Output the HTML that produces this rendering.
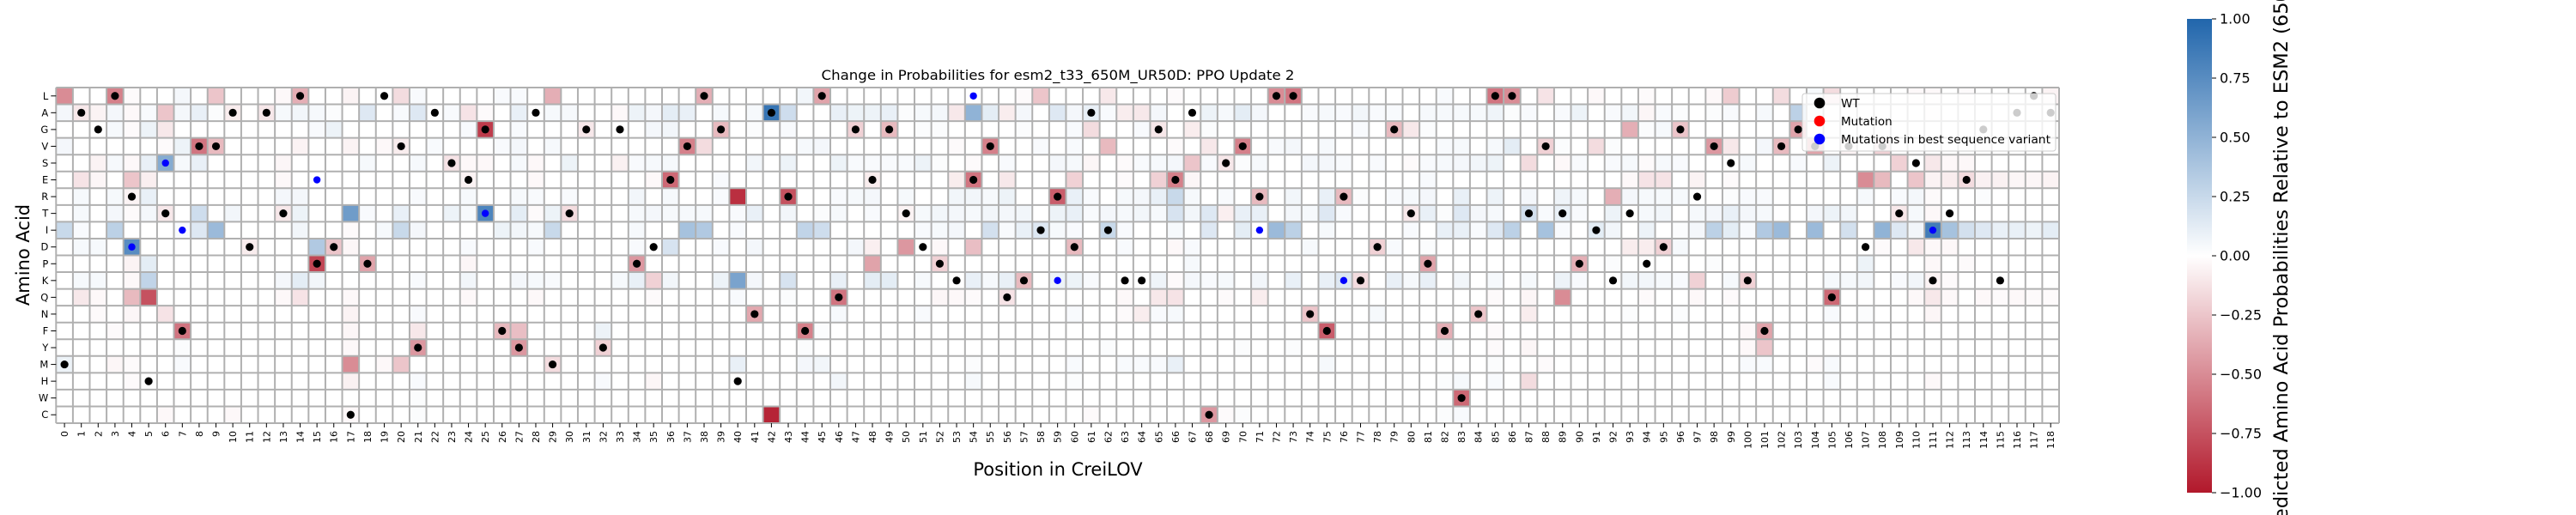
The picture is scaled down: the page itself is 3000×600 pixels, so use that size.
<!DOCTYPE html>
<html><head><meta charset="utf-8"><style>
html,body{margin:0;padding:0;background:#fff;}
svg{display:block;font-family:"DejaVu Sans","Liberation Sans",sans-serif;}
</style></head><body>
<svg id="chart" width="3000" height="600" viewBox="0 0 3000 600" xmlns="http://www.w3.org/2000/svg">
<defs>
<linearGradient id="cbgrad" x1="0" y1="1" x2="0" y2="0">
<stop offset="0" stop-color="#b2182b"/><stop offset="0.5" stop-color="#ffffff"/><stop offset="1" stop-color="#2166ac"/>
</linearGradient>
</defs>
<text x="1232" y="93" font-size="16" text-anchor="middle" textLength="551" lengthAdjust="spacingAndGlyphs">Change in Probabilities for esm2_t33_650M_UR50D: PPO Update 2</text>
<g id="cells"></g>
<g id="grid"></g>
<g id="dots"></g>
<g id="xaxis"></g>
<g id="yaxis"></g>
<text x="1232" y="554" font-size="21" text-anchor="middle">Position in CreiLOV</text>
<text transform="translate(34,297) rotate(-90)" font-size="21" text-anchor="middle">Amino Acid</text>
<g>
<rect x="2099" y="109" width="295" height="67" rx="3" fill="#fff" fill-opacity="0.8" stroke="#cccccc" stroke-width="1"/>
<circle cx="2119" cy="120" r="6.3" fill="#000"/>
<text x="2144" y="125" font-size="13.5">WT</text>
<circle cx="2119" cy="141" r="6.3" fill="#ff0000"/>
<text x="2144" y="146" font-size="13.5">Mutation</text>
<circle cx="2119" cy="162" r="6.3" fill="#0000ff"/>
<text x="2144" y="167" font-size="13.5" textLength="244" lengthAdjust="spacingAndGlyphs">Mutations in best sequence variant</text>
</g>
<g>
<rect x="2547" y="22" width="29" height="552" fill="url(#cbgrad)"/>
<g id="cbticks"></g>
<text transform="translate(2664,628) rotate(-90)" font-size="22.5" text-anchor="start">Predicted Amino Acid Probabilities Relative to ESM2 (650M)</text>
</g>
</svg>
<script>
const aminoAcids = ['L','A','G','V','S','E','R','T','I','D','P','K','Q','N','F','Y','M','H','W','C'];
const positions = 119;
const wtResidue = ['M','A','G','L','R','H','T','F','V','V','A','D','A','T','L','P','D','C','P','L','V','Y','A','S','E','G','F','Y','A','M','T','G','Y','G','P','D','E','V','L','G','H','N','A','R','F','L','Q','G','E','G','T','D','P','K','E','V','Q','K','I','R','D','A','I','K','K','G','E','A','C','S','V','R','L','L','N','F','R','K','D','G','T','P','F','W','N','L','L','T','V','T','P','I','K','T','P','D','G','R','V','S','K','F','V','G','V','Q','V','D','V','T','S','K','T','E','G','K','A','L','A'];
const bestCols = [4,6,7,15,25,54,59,71,76,111];
const bestResidue = ['D','S','I','E','T','L','K','I','K','I'];
const cbTicks = [1.0,0.75,0.5,0.25,0,-0.25,-0.5,-0.75,-1.0];
const cbTickLabels = ['1.00','0.75','0.50','0.25','0.00','\u22120.25','\u22120.50','\u22120.75','\u22121.00'];
// sparse per-row values [position, value]
const rowL=[[0,-.5],[3,-.55],[4,-.02],[7,.05],[9,-.25],[13,-.03],[14,-.35],[17,-.05],[20,-.15],[21,.03],[26,.03],[27,.03],[29,-.35],[38,-.35],[44,.06],[45,-.4],[57,-.02],[58,-.25],[62,-.1],[66,-.02],[72,-.5],[73,-.6],[82,.03],[85,-.6],[86,-.5],[88,-.12],[91,-.03],[94,-.02],[98,-.03],[99,-.22],[102,-.15],[104,.04],[105,-.15],[110,-.03],[111,-.03],[113,-.02],[118,-.05]];
const rowA=[[0,.05],[1,-.1],[2,-.05],[3,.05],[4,-.03],[5,.03],[6,-.25],[7,.05],[8,.1],[9,.02],[10,-.08],[12,-.1],[13,.04],[14,.06],[15,.04],[16,.02],[18,.15],[20,.03],[21,.15],[23,.03],[24,-.12],[25,-.02],[27,.1],[29,.04],[30,.04],[33,-.03],[34,.08],[35,.05],[36,.12],[37,.1],[39,.04],[41,.04],[42,.9],[43,.22],[46,.1],[47,.08],[48,.08],[49,.1],[50,.02],[51,.04],[52,.05],[53,-.1],[54,.5],[55,.12],[56,-.08],[57,.05],[59,.15],[60,.05],[61,.1],[62,.03],[63,-.08],[64,-.1],[65,.05],[68,.08],[69,.04],[70,.12],[71,.05],[74,.03],[75,.04],[76,.03],[77,.06],[78,.03],[79,.03],[81,.04],[82,.04],[83,.04],[84,.04],[85,.07],[86,.02],[87,.03],[89,.03],[90,.08],[92,.03],[93,.06],[94,-.04],[95,.03],[96,.02],[98,.02],[99,.03],[101,.04],[103,.3],[104,.05],[111,-.02]];
const rowG=[[3,.04],[4,-.02],[5,.08],[6,-.1],[15,.03],[16,.08],[24,.03],[25,-.85],[27,.03],[31,-.1],[35,.05],[36,.06],[39,-.3],[41,.02],[43,.03],[47,-.2],[49,-.3],[51,.02],[52,.02],[57,.02],[60,.03],[61,-.15],[64,.03],[65,-.1],[67,-.08],[68,.02],[77,.03],[79,-.3],[80,-.1],[81,.02],[93,-.35],[94,.02],[95,.04],[96,-.25],[103,-.4]];
const rowV=[[0,.05],[6,-.02],[7,.08],[8,-.6],[9,-.3],[14,-.05],[17,-.05],[19,-.03],[20,-.08],[22,.03],[26,.03],[27,.05],[29,.04],[37,-.55],[38,-.15],[44,.04],[45,.05],[53,-.02],[55,-.55],[58,.03],[60,.03],[62,-.3],[66,-.02],[68,-.1],[70,-.55],[72,.03],[73,.05],[75,.04],[82,.03],[83,.04],[85,.04],[86,.12],[88,-.2],[89,.02],[91,-.15],[92,.02],[98,-.45],[99,-.1],[101,.05],[102,-.3],[104,-.4],[106,-.05],[108,-.2]];
const rowS=[[2,-.05],[3,.04],[4,-.03],[5,.1],[6,.55],[7,.04],[8,.1],[13,-.04],[18,.04],[21,.04],[23,-.12],[24,-.03],[25,-.03],[27,.04],[28,-.03],[30,.08],[33,-.06],[34,.03],[35,.04],[36,.04],[41,.06],[43,.08],[46,.08],[47,.03],[48,.03],[49,.03],[50,.03],[51,.08],[52,.02],[54,-.02],[56,.03],[59,.05],[60,.04],[61,-.04],[63,-.02],[64,.03],[65,.04],[66,.05],[67,-.25],[68,.03],[69,-.1],[70,.02],[71,.04],[74,.05],[75,.05],[76,.03],[78,.03],[80,-.02],[81,.03],[82,.04],[83,.05],[84,.06],[85,.08],[87,-.15],[89,-.03],[90,.03],[92,.03],[93,.04],[94,-.02],[95,.04],[96,.03],[100,.04],[103,.03],[105,.08],[109,-.2],[111,-.1],[112,-.03],[113,-.03]];
const rowE=[[1,-.12],[2,-.04],[4,-.25],[5,-.07],[13,-.03],[24,-.05],[28,-.03],[35,-.03],[36,-.65],[39,.03],[48,-.08],[53,-.08],[54,-.6],[56,-.1],[60,-.2],[63,-.02],[65,-.2],[66,-.55],[67,-.04],[81,.03],[93,-.03],[94,-.12],[95,-.12],[97,-.05],[99,-.02],[107,-.5],[108,-.3],[110,-.25],[111,-.05],[112,-.08],[113,-.15],[114,-.06],[115,-.06],[116,-.04],[117,-.04],[118,-.05]];
const rowR=[[1,.04],[3,.04],[4,-.05],[5,.1],[13,.05],[14,.05],[21,.03],[24,.04],[27,.04],[28,.03],[30,.03],[34,.06],[36,.04],[39,.03],[40,-.9],[43,-.75],[46,.03],[47,.04],[48,.05],[50,.04],[53,.06],[54,.06],[55,.04],[56,.08],[59,-.7],[60,.1],[61,.03],[63,.04],[64,.05],[65,.1],[66,.25],[67,.04],[69,.03],[71,-.3],[73,.06],[75,.1],[76,-.3],[77,.02],[79,.03],[80,.04],[81,.05],[83,.1],[85,.08],[87,.05],[89,.07],[90,.04],[92,-.35],[93,.05],[94,.04],[95,.04],[96,.04],[99,.02],[100,.03],[101,.03],[107,.04],[109,.03],[110,.05],[111,-.02],[114,.02]];
const rowT=[[1,.04],[3,.05],[4,-.02],[5,.05],[6,-.1],[8,.22],[10,.06],[13,-.1],[14,.08],[17,.65],[18,.03],[20,.1],[23,.08],[24,.04],[25,.8],[27,.12],[28,-.02],[29,.08],[30,-.15],[34,.04],[35,.05],[36,.04],[37,.04],[38,.04],[40,.03],[41,.1],[43,.06],[45,.02],[46,.04],[48,.03],[50,-.05],[51,.04],[52,.06],[53,.05],[54,.04],[55,.06],[56,.05],[57,.06],[59,.08],[60,.1],[61,.03],[62,.05],[63,.04],[64,.06],[65,.04],[66,.18],[67,.06],[68,.15],[69,-.07],[70,.1],[71,.1],[73,.05],[74,.04],[75,.15],[76,.03],[80,-.1],[81,.1],[82,.02],[83,.15],[84,.05],[85,.04],[87,.2],[88,.03],[89,.1],[90,.03],[92,.08],[94,.04],[95,.06],[97,.04],[98,.05],[99,.1],[100,.05],[101,.04],[104,.05],[105,.08],[106,.06],[109,-.1],[110,.04],[111,-.03]];
const rowI=[[0,.25],[1,.03],[3,.3],[7,.03],[8,.15],[9,.45],[14,.06],[17,-.02],[19,.04],[20,.25],[21,.05],[26,.08],[27,.06],[28,.04],[29,.25],[34,.04],[37,.4],[38,.35],[40,.03],[44,.28],[45,.22],[51,.03],[52,.04],[53,.05],[55,.2],[56,.03],[57,.1],[58,.15],[59,.04],[60,.03],[62,.25],[63,.03],[66,.04],[68,.15],[70,.12],[72,.45],[73,.3],[75,.04],[80,.03],[82,.1],[83,.1],[84,.03],[85,.15],[86,.3],[88,.4],[89,.03],[91,.12],[92,.06],[94,.08],[96,.02],[97,.05],[98,.3],[99,.12],[100,.03],[101,.35],[102,.45],[104,.45],[106,.2],[108,.5],[109,.15],[110,.06],[111,.85],[112,.4],[113,.2],[114,.15],[115,.1],[116,.1],[117,.08],[118,.12]];
const rowD=[[1,.04],[2,.04],[4,.75],[11,-.08],[15,.35],[16,-.25],[17,-.04],[24,.03],[28,.03],[34,.03],[36,.18],[39,.03],[41,.05],[47,.05],[48,-.07],[50,-.45],[52,-.03],[54,-.28],[60,-.3],[63,.03],[66,-.03],[67,.03],[74,.04],[78,-.2],[79,.03],[81,.02],[93,-.08],[94,-.08],[95,-.2],[96,.04],[108,-.02],[110,-.1],[111,-.03],[112,-.03]];
const rowP=[[4,-.05],[5,.12],[15,-.8],[18,-.4],[24,-.04],[34,-.45],[48,-.4],[52,-.2],[67,.04],[81,-.4],[90,-.35],[92,.02],[98,.02],[107,.08],[111,-.03],[113,-.02]];
const rowK=[[1,.04],[2,.04],[4,-.03],[5,.28],[13,.05],[14,.12],[15,.06],[21,.03],[24,.06],[27,.05],[28,.04],[29,.03],[33,.04],[34,.1],[35,-.2],[36,.06],[39,.08],[40,.6],[41,.05],[43,.18],[46,.1],[48,.12],[49,.12],[51,.04],[54,.1],[55,.04],[56,.1],[57,-.3],[59,.08],[60,.08],[61,.03],[65,.07],[66,-.02],[67,.05],[68,.03],[69,.04],[71,.06],[73,.1],[75,.1],[76,.15],[77,-.15],[79,.1],[80,.04],[81,.1],[83,.06],[85,.04],[87,.04],[89,.08],[90,.03],[93,.06],[94,.06],[95,.04],[96,.03],[97,-.2],[99,.04],[100,-.2],[105,.04],[106,.04],[107,.06],[109,.03],[110,.06],[111,-.05],[112,-.02]];
const rowQ=[[1,-.1],[2,-.03],[4,-.3],[5,-.75],[13,-.03],[14,-.12],[17,-.03],[24,-.03],[28,-.03],[35,-.02],[40,.03],[43,.02],[46,-.6],[52,-.04],[53,-.03],[54,-.02],[56,-.12],[63,-.03],[65,-.1],[66,-.12],[69,-.02],[71,-.08],[85,-.02],[87,-.04],[89,-.5],[94,-.02],[97,-.03],[99,-.02],[105,-.65],[110,-.03],[111,-.1],[112,-.03],[114,-.03],[115,-.02],[116,-.03],[117,-.02],[118,-.02]];
const rowN=[[2,-.02],[4,-.04],[6,-.12],[17,-.05],[21,.03],[41,-.38],[46,.04],[51,.03],[60,.03],[63,-.02],[64,-.08],[65,.03],[66,.04],[74,-.25],[78,.04],[84,-.25],[87,-.08],[93,.02],[96,.02],[105,.03],[107,.02],[111,-.04]];
const rowF=[[3,-.02],[7,-.6],[17,-.04],[21,-.1],[26,-.3],[27,-.28],[32,.08],[44,-.55],[45,.02],[75,-.7],[82,-.35],[85,-.02],[100,-.03],[101,-.4]];
const rowY=[[7,.02],[17,-.03],[21,-.45],[27,-.45],[32,-.2],[44,.02],[62,.02],[70,.02],[73,.02],[82,.02],[85,-.02],[87,-.04],[100,-.03],[101,-.25]];
const rowM=[[0,.08],[3,-.04],[4,-.02],[7,.03],[17,-.5],[19,-.03],[20,-.25],[29,-.15],[40,.1],[44,.05],[45,.06],[54,.02],[60,.03],[63,.03],[64,.03],[65,.03],[66,.1],[75,.04],[85,.02],[88,-.02],[100,.03],[101,.03],[104,-.02],[105,.03]];
const rowH=[[4,-.02],[17,-.06],[21,.03],[32,.03],[35,-.04],[46,.06],[54,.04],[60,.02],[82,.02],[83,.04],[85,.03],[87,-.15],[105,.03],[111,-.03]];
const rowW=[[21,.02],[83,-.65]];
const rowC=[[6,-.03],[10,-.03],[17,-.03],[21,.02],[42,-.95],[61,-.02],[68,-.45],[69,-.02],[70,.02],[82,.02],[83,.03]];
const rowValues=[rowL,rowA,rowG,rowV,rowS,rowE,rowR,rowT,rowI,rowD,rowP,rowK,rowQ,rowN,rowF,rowY,rowM,rowH,rowW,rowC];

const NS='http://www.w3.org/2000/svg';
const X0=65.3, X1=2398, Y0=102, Y1=493;
const CW=(X1-X0)/positions, RH=(Y1-Y0)/aminoAcids.length;
const xPos=c=>X0+c*CW, xMid=c=>X0+(c+0.5)*CW;
const yPos=r=>Y0+r*RH, yMid=r=>Y0+(r+0.5)*RH;
const cbY=v=>22+(1-v)/2*552;
function color(v){
  v=Math.max(-1,Math.min(1,v));
  const end=v<0?[178,24,43]:[33,102,172], t=Math.abs(v);
  const c=end.map(e=>Math.round(255+(e-255)*t));
  return 'rgb('+c.join(',')+')';
}
function mk(tag,attrs,parent){const e=document.createElementNS(NS,tag);for(const k in attrs)e.setAttribute(k,attrs[k]);parent.appendChild(e);return e;}
const gC=document.getElementById('cells'),gG=document.getElementById('grid'),gD=document.getElementById('dots'),gX=document.getElementById('xaxis'),gY=document.getElementById('yaxis'),gCB=document.getElementById('cbticks');
rowValues.forEach((arr,r)=>{arr.forEach(([c,v])=>{
  const el=mk('rect',{x:xPos(c),y:yPos(r),width:CW,height:RH,fill:color(v)},gC);
  
  
});});
for(let c=0;c<=positions;c++){const l=mk('line',{x1:xPos(c),x2:xPos(c),y1:Y0,y2:Y1,stroke:'#b0b0b0','stroke-width':2},gG);
  
  }
for(let r=0;r<=aminoAcids.length;r++){const l=mk('line',{x1:X0,x2:X1,y1:yPos(r),y2:yPos(r),stroke:'#b0b0b0','stroke-width':2},gG);
  
  }
wtResidue.forEach((aa,c)=>{const r=aminoAcids.indexOf(aa);
  const d=mk('circle',{cx:xMid(c),cy:yMid(r),r:4.6,fill:'#000'},gD);
  
  });
bestCols.forEach((c,i)=>{const r=aminoAcids.indexOf(bestResidue[i]);
  const d=mk('circle',{cx:xMid(c),cy:yMid(r),r:4.2,fill:'#0000ff'},gD);
  
  });
for(let c=0;c<positions;c++){
  const t=mk('line',{x1:xMid(c),x2:xMid(c),y1:Y1,y2:Y1+5,stroke:'#000','stroke-width':1},gX);
  
  
  const tx=mk('text',{transform:'translate('+(xMid(c)+4)+','+(Y1+9)+') rotate(-90)','font-size':11,'text-anchor':'end'},gX);
  tx.textContent=String(c);
  
  
}
aminoAcids.forEach((aa,r)=>{
  const t=mk('line',{x1:X0-6,x2:X0,y1:yMid(r),y2:yMid(r),stroke:'#000','stroke-width':1},gY);
  
  
  const tx=mk('text',{x:X0-9,y:yMid(r)+4,'font-size':11.5,'text-anchor':'end'},gY);
  tx.textContent=aa;
  
  
});
cbTicks.forEach((v,i)=>{
  const t=mk('line',{x1:2576,x2:2581,y1:cbY(v),y2:cbY(v),stroke:'#000','stroke-width':1},gCB);
  
  
  const tx=mk('text',{x:2585,y:cbY(v)+5.5,'font-size':16},gCB);
  tx.textContent=cbTickLabels[i];
  
  
});
</script>
</body></html>
